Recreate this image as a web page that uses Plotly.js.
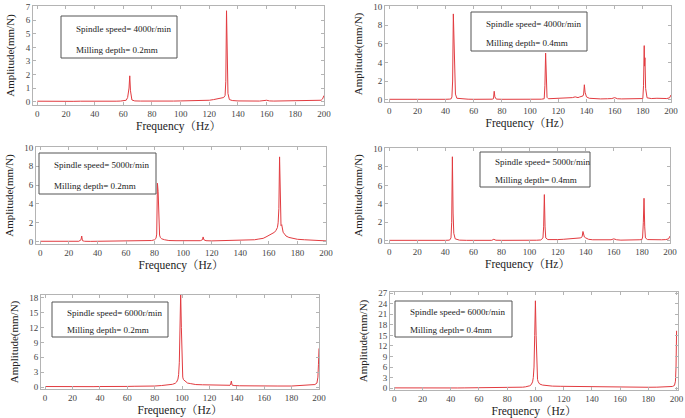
<!DOCTYPE html>
<html>
<head>
<meta charset="utf-8">
<script src="https://cdn.plot.ly/plotly-3.0.1.min.js"></script>
<style>html,body{margin:0;padding:0;background:#fff;}#chart{width:685px;height:418px;}</style>
</head>
<body>
<div id="chart"></div>
<script>
// ---------- DATA ----------
const speeds = ["4000r/min", "4000r/min", "5000r/min", "5000r/min", "6000r/min", "6000r/min"];
const depths = ["0.2mm", "0.4mm", "0.2mm", "0.4mm", "0.2mm", "0.4mm"];
const xTitle = "Frequency（Hz）";
const yTitle = "Amplitude(mm/N)";

const f1 = [
0,5,10,15,20,25,30,35,40,45,
50,55,58,61,62,63,64,64.5,65,66,
68,72,76,80,85,90,95,100,105,108,
110,115,118,120,123,125,127,129,130,131,
131.5,132,132.5,133,134,136,140,145,150,155,
160,162,165,170,175,180,185,190,195,198,
199,200];
const a1 = [
0.03,0.02,0.03,0.02,0.03,0.02,0.03,0.02,0.03,0.03,
0.04,0.03,0.04,0.05,0.1,0.3,1.0,1.9,0.8,0.12,
0.05,0.04,0.03,0.04,0.03,0.04,0.04,0.05,0.06,0.1,
0.06,0.1,0.12,0.1,0.15,0.18,0.22,0.26,0.3,0.45,
1.5,6.7,2.5,0.6,0.15,0.08,0.05,0.04,0.05,0.04,
0.1,0.05,0.04,0.05,0.06,0.04,0.05,0.04,0.06,0.1,
0.2,0.45];

const f2 = [
0,5,10,15,20,25,30,35,40,43,
44,44.5,45,45.5,46,46.5,47,48,52,56,
60,65,70,73,74,74.5,75,76,80,85,
90,95,100,105,108,110,110.5,111,111.5,112,
113,116,120,124,128,130,132,134,135,136,
137,137.5,138,138.5,139,139.5,140,142,145,150,
155,158,160,162,165,170,175,178,180,180.5,
181,181.2,181.5,182,183,186,190,194,197,199,
200];
const a2 = [
0.04,0.03,0.04,0.05,0.03,0.04,0.04,0.03,0.04,0.06,
0.1,0.3,2.0,9.2,6.5,2.5,0.6,0.15,0.06,0.05,
0.04,0.03,0.04,0.05,0.1,0.9,0.3,0.06,0.04,0.03,
0.04,0.04,0.03,0.04,0.05,0.1,1.5,5.0,1.5,0.25,
0.1,0.12,0.1,0.15,0.2,0.22,0.3,0.22,0.28,0.3,
0.35,0.4,0.6,1.6,0.8,0.45,0.3,0.15,0.1,0.08,
0.1,0.12,0.22,0.1,0.08,0.1,0.12,0.15,0.12,1.5,
5.8,3.6,4.5,1.2,0.2,0.12,0.15,0.1,0.12,0.2,
0.5];

const f3 = [
0,5,10,15,20,25,27,28.5,29,29.5,
31,35,40,45,50,55,60,65,70,75,
78,80,81,81.5,82,82.5,83,83.5,84,85,
87,90,95,100,105,110,112,113.5,114,114.5,
116,120,125,130,135,140,145,150,153,156,
158,160,162,164,165,166,166.5,167,167.5,168,
168.5,169,169.5,170,171,172,174,177,180,185,
190,195,200];
const a3 = [
0.04,0.03,0.04,0.03,0.04,0.03,0.04,0.2,0.6,0.1,
0.04,0.03,0.04,0.03,0.04,0.03,0.04,0.03,0.05,0.08,
0.12,0.2,0.35,0.8,6.2,5.3,1.5,0.7,0.45,0.3,
0.2,0.12,0.1,0.08,0.07,0.08,0.1,0.2,0.5,0.2,
0.1,0.08,0.1,0.12,0.1,0.12,0.15,0.2,0.28,0.35,
0.5,0.65,0.8,1.0,1.2,1.5,2.0,3.5,9.0,2.0,
1.7,1.8,1.3,1.0,0.8,0.6,0.45,0.35,0.25,0.2,
0.15,0.1,0.08];

const f4 = [
0,5,10,15,20,25,30,35,40,43,
44,44.5,45,45.5,46,47,50,55,60,65,
70,73,74.5,76,80,85,90,95,100,105,
108,109.5,110,110.5,111,111.5,113,116,120,124,
128,131,133,135,136,137,137.5,138,138.5,139,
140,142,145,150,155,158,160,162,165,170,
175,178,180,180.5,181,181.5,182,182.5,184,187,
190,194,197,199,200];
const a4 = [
0.04,0.03,0.04,0.03,0.04,0.03,0.04,0.03,0.04,0.06,
0.3,2.0,9.1,3.0,0.8,0.2,0.06,0.04,0.03,0.04,
0.03,0.04,0.15,0.05,0.04,0.03,0.04,0.03,0.04,0.05,
0.08,0.3,1.5,5.0,1.5,0.3,0.12,0.1,0.12,0.15,
0.18,0.25,0.22,0.25,0.3,0.35,0.5,1.0,0.6,0.4,
0.3,0.15,0.1,0.08,0.06,0.1,0.2,0.1,0.06,0.05,
0.07,0.1,0.12,0.4,2.0,4.6,1.5,0.3,0.12,0.1,
0.15,0.1,0.12,0.2,0.5];

const f5 = [
0,5,10,15,20,25,30,35,40,45,
50,55,60,65,70,75,80,85,88,91,
93,95,96,97,97.5,98,98.5,99,99.5,100,
100.5,101,102,104,106,110,115,120,125,130,
133,135,135.5,136,136.5,138,142,150,160,170,
180,185,190,194,197,198.5,199.2,199.6,200];
const a5 = [
0.1,0.08,0.1,0.08,0.1,0.08,0.1,0.08,0.1,0.08,
0.1,0.1,0.12,0.15,0.12,0.15,0.2,0.3,0.35,0.45,
0.55,0.75,1.0,1.6,2.5,5.0,12,19,12,4.0,
2.0,1.5,1.2,0.8,0.7,0.5,0.45,0.4,0.35,0.3,
0.3,0.35,0.6,1.2,0.4,0.3,0.25,0.2,0.18,0.2,
0.2,0.25,0.3,0.4,0.5,0.8,2.0,4.5,7.8];

const f6 = [
0,5,10,15,20,25,30,35,40,45,
50,55,60,65,70,75,80,85,88,91,
93,95,96,97,98,98.5,99,99.5,100,100.5,
101,101.5,102,103,105,108,112,118,125,132,
140,150,160,170,180,186,190,194,197,198.5,
199.2,199.6,200];
const a6 = [
0.1,0.08,0.1,0.08,0.1,0.08,0.1,0.08,0.1,0.08,
0.1,0.1,0.12,0.12,0.12,0.15,0.15,0.2,0.25,0.3,
0.4,0.5,0.7,1.0,1.8,3.0,6.0,15,24.8,15,
5.0,2.5,1.8,1.2,0.9,0.7,0.6,0.55,0.5,0.45,
0.4,0.35,0.3,0.3,0.28,0.3,0.3,0.35,0.5,0.8,
2.0,6.0,16.3];

const freqs = [f1, f2, f3, f4, f5, f6];
const amps = [a1, a2, a3, a4, a5, a6];

// ---------- LAYOUT (pixel geometry) ----------
const W = 685, H = 418;
const panels = [
  {l:33,  r:324, t:6,   b:105, xr:[-3,200], yr:[-0.25,7.05], dy:1, box:[61,177,16,58]},
  {l:385, r:671, t:6,   b:102, xr:[-3,200], yr:[-0.25,10.05], dy:2, box:[471,587,12,51]},
  {l:36,  r:326, t:147, b:244, xr:[-3,200], yr:[-0.25,10.05], dy:2, box:[39,156,153,194]},
  {l:385, r:670, t:148, b:243, xr:[-3,200], yr:[-0.25,10.05], dy:2, box:[480,590,152,187]},
  {l:41,  r:319, t:295, b:389, xr:[-3,200], yr:[-0.4,18.6],  dy:3, box:[52,168,302,337]},
  {l:390, r:678, t:292, b:390, xr:[-3,201], yr:[-0.5,27.3],  dy:3, box:[395,512,301,337]}
];

const serif = '"Liberation Serif", "Times New Roman", "Noto Serif CJK SC", "Noto Sans CJK SC", serif';
const frameColor = "#b4b4b4";
const lineColor = "#e23b40";

const traces = [];
const layout = {
  width: W, height: H,
  margin: {l:0, r:0, t:0, b:0},
  paper_bgcolor: "#ffffff",
  plot_bgcolor: "#ffffff",
  showlegend: false,
  font: {family: serif, color: "#333"},
  shapes: [],
  annotations: []
};

panels.forEach((p, i) => {
  const n = i + 1;
  const xa = n === 1 ? "xaxis" : "xaxis" + n;
  const ya = n === 1 ? "yaxis" : "yaxis" + n;
  traces.push({
    type: "scatter", mode: "lines",
    x: freqs[i], y: amps[i],
    xaxis: "x" + (n === 1 ? "" : n), yaxis: "y" + (n === 1 ? "" : n),
    line: {color: lineColor, width: 1},
    hoverinfo: "x+y"
  });
  const common = {
    showline: true, mirror: "ticks", linecolor: frameColor, linewidth: 1,
    ticks: "inside", ticklen: 3, tickcolor: frameColor, tickwidth: 1,
    showgrid: false, zeroline: false,
    tickfont: {family: serif, size: 9, color: "#444"}
  };
  layout[xa] = Object.assign({}, common, {
    domain: [p.l / W, p.r / W],
    range: p.xr, dtick: 20, tick0: 0,
    anchor: "y" + (n === 1 ? "" : n),
    title: {text: xTitle, font: {family: serif, size: 11.5, color: "#222"}, standoff: 4}
  });
  layout[ya] = Object.assign({}, common, {
    domain: [1 - p.b / H, 1 - p.t / H],
    range: p.yr, dtick: p.dy, tick0: 0,
    anchor: "x" + (n === 1 ? "" : n),
    title: {text: yTitle, font: {family: serif, size: 11, color: "#222"}, standoff: 8}
  });
  const [bl, br, bt, bb] = p.box;
  layout.shapes.push({
    type: "rect", xref: "paper", yref: "paper",
    x0: bl / W, x1: br / W, y0: 1 - bb / H, y1: 1 - bt / H,
    line: {color: "#555", width: 1}, fillcolor: "#ffffff", layer: "above"
  });
  const h = bb - bt;
  layout.annotations.push({
    xref: "paper", yref: "paper", xanchor: "left", yanchor: "middle",
    x: (bl + 13) / W, y: 1 - (bt + h * 0.3) / H, showarrow: false,
    text: "Spindle speed= " + speeds[i],
    font: {family: serif, size: 9, color: "#222"}
  });
  layout.annotations.push({
    xref: "paper", yref: "paper", xanchor: "left", yanchor: "middle",
    x: (bl + 13) / W, y: 1 - (bt + h * 0.8) / H, showarrow: false,
    text: "Milling depth= " + depths[i],
    font: {family: serif, size: 9, color: "#222"}
  });
});

Plotly.newPlot("chart", traces, layout, {displayModeBar: false, staticPlot: true});
</script>
</body>
</html>
